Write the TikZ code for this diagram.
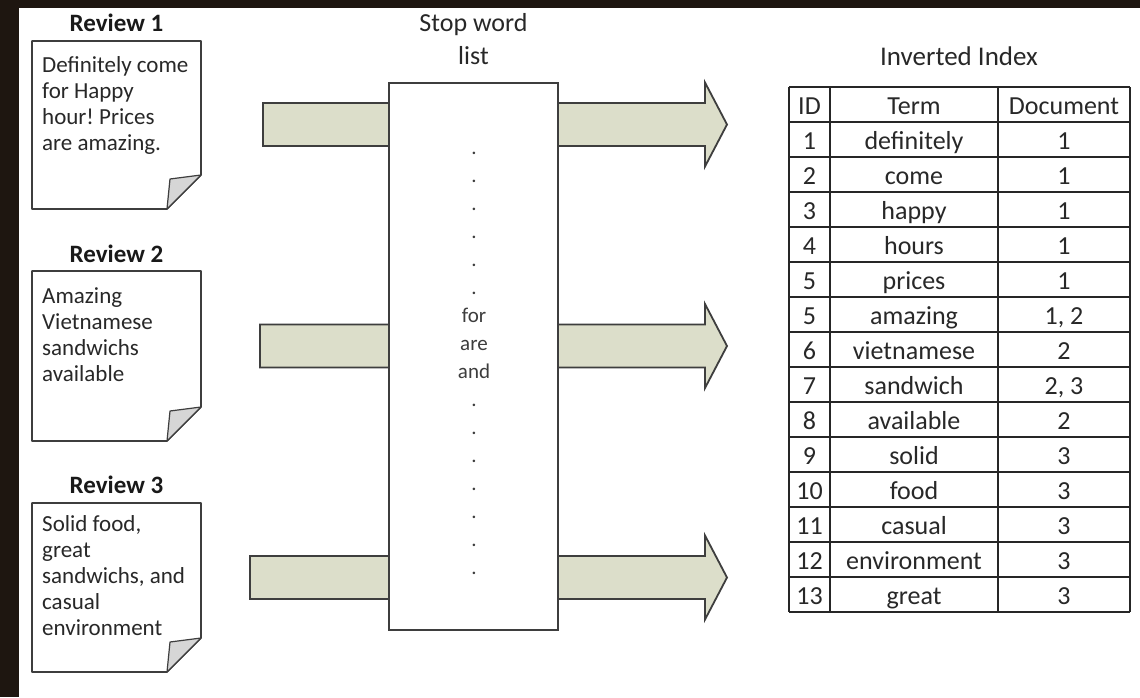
\documentclass[tikz,border=0pt]{standalone}
\usepackage{fontspec}
\setmainfont{Carlito}
\frenchspacing
\definecolor{framebrown}{RGB}{30,22,16}
\definecolor{arrowfill}{RGB}{220,222,202}
\definecolor{edgegray}{RGB}{62,62,62}
\definecolor{ink}{RGB}{40,40,40}
\definecolor{foldgray}{RGB}{214,214,214}
\begin{document}
\begin{tikzpicture}[x=1pt,y=-1pt,
  titletxt/.style={anchor=base, inner sep=0pt, text=black!90, font=\fontsize{25}{30}\selectfont\bfseries},
  notetxt/.style={anchor=base west, inner sep=0pt, align=left, text=ink, font=\fontsize{23}{26}\selectfont},
  paper/.style={draw=edgegray, line width=1.6pt, fill=white, line join=round},
  fold/.style={draw=edgegray, line width=1.2pt, fill=foldgray, line join=round},
  bigarrow/.style={draw=edgegray, line width=1.8pt, fill=arrowfill, line join=miter},
  stopbox/.style={draw=edgegray, line width=1.6pt, fill=white, minimum width=169pt, minimum height=547pt, inner sep=0pt},
  stoptxt/.style={anchor=base, inner sep=0pt, align=center, text=ink, font=\fontsize{26}{33}\selectfont},
  wordtxt/.style={anchor=base, inner sep=0pt, align=center, text=ink!90, font=\fontsize{21}{28}\selectfont},
  tabline/.style={draw=black!85, line width=1.8pt},
  celltxt/.style={anchor=base, inner sep=0pt, text=ink, font=\fontsize{26}{31}\selectfont},
  idxtitle/.style={anchor=base, inner sep=0pt, text=ink, font=\fontsize{27}{32}\selectfont}]

% frame and page
\fill[framebrown] (0,0) rectangle (1140,697);
\fill[white] (19,8) rectangle (1140,697);
\useasboundingbox (0,0) rectangle (1140,697);

% review notes with folded corners
\foreach \n/\top/\bot in {1/41/209, 2/271/441, 3/503/672}{
  \draw[paper] (32,\top) -- (201,\top) -- (201,\bot-34) -- (167,\bot) -- (32,\bot) -- cycle;
  \draw[fold] (167,\bot) -- (170,\bot-30) -- (201,\bot-34) -- cycle;
}
\node[titletxt] (rev1) at (116.5,31) {Review 1};
\node[titletxt] (rev2) at (116.5,262) {Review 2};
\node[titletxt] (rev3) at (116.5,493) {Review 3};
% multi-line nodes sit on the baseline of their last line
\node[notetxt] (note1) at (42,150) {Definitely come\\for Happy\\hour! Prices\\are amazing.};
\node[notetxt] (note2) at (42,381) {Amazing\\Vietnamese\\sandwichs\\available};
\node[notetxt] (note3) at (42,635) {Solid food,\\great\\sandwichs, and\\casual\\environment};

% wide arrows passing through the stop word filter
\foreach \L/\yc/\n in {263/124.5/1, 260/346/2, 250/577.5/3}{
  \coordinate (in\n) at (\L,\yc);
  \coordinate (out\n) at (727,\yc);
  \draw[bigarrow] (\L,\yc-21.5) -- (705,\yc-21.5) -- (705,\yc-42) -- (out\n)
    -- (705,\yc+42) -- (705,\yc+21.5) -- (\L,\yc+21.5) -- cycle;
}

% stop word list
\node[stopbox] (stop) at (473.5,356.5) {};
\node[stoptxt] (stoptitle) at (473.5,64) {Stop word\\list};
\node[wordtxt] (words) at (474,574.5) {.\\.\\.\\.\\.\\.\\for\\are\\and\\.\\.\\.\\.\\.\\.\\.};

% inverted index table
\node[idxtitle] (idxtitle) at (959,65) {Inverted Index};
\foreach \k in {0,...,15}{
  \draw[tabline] (789,87+35*\k) -- (1130,87+35*\k);
}
\foreach \x in {789,830,998,1130}{
  \draw[tabline] (\x,87) -- (\x,612);
}
\node[celltxt] (hid) at (809.5,114) {ID};
\node[celltxt] (hterm) at (914,114) {Term};
\node[celltxt] (hdoc) at (1064,114) {Document};
\foreach \id/\term/\doc [count=\k] in {1/definitely/1, 2/come/1, 3/happy/1, 4/hours/1,
    5/prices/1, 5/amazing/{1, 2}, 6/vietnamese/2, 7/sandwich/{2, 3}, 8/available/2,
    9/solid/3, 10/food/3, 11/casual/3, 12/environment/3, 13/great/3}{
  \node[celltxt] (id\k) at (809.5,114+35*\k) {\id};
  \node[celltxt] (term\k) at (914,114+35*\k) {\term};
  \node[celltxt] (doc\k) at (1064,114+35*\k) {\doc};
}
\end{tikzpicture}
\end{document}
